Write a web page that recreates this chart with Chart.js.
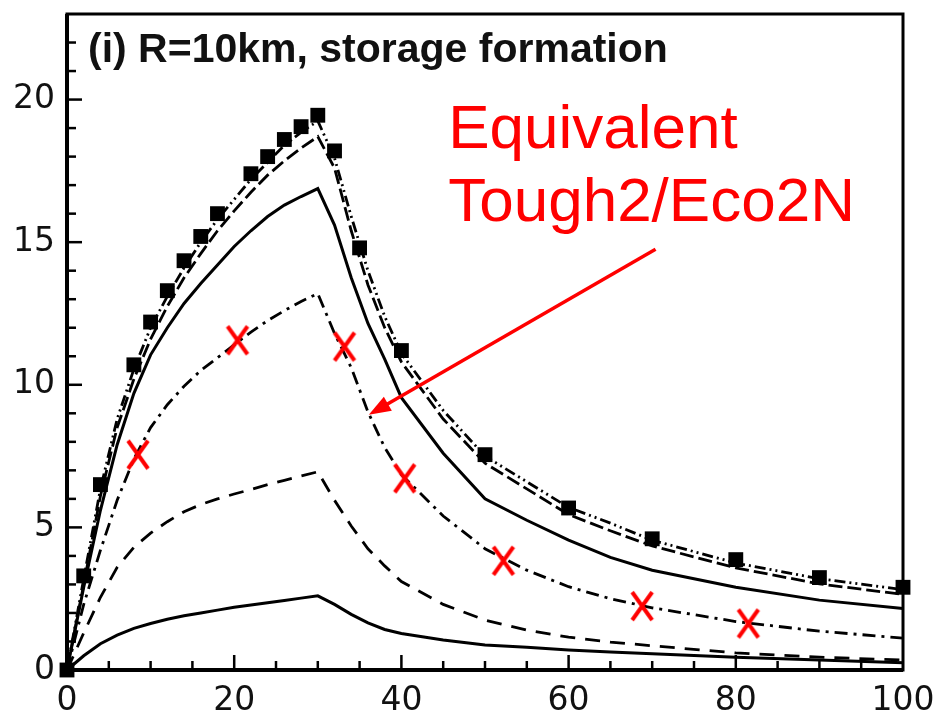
<!DOCTYPE html>
<html>
<head>
<meta charset="utf-8">
<script src="https://cdn.jsdelivr.net/npm/chart.js@4.4.0/dist/chart.umd.min.js"></script>
<style>
  html, body { margin: 0; padding: 0; background: #fff; }
</style>
</head>
<body>
<canvas id="chart" width="939" height="720"></canvas>
<script>
// temps commun aux courbes du modèle
var years = [0, 2, 4, 6, 8, 10, 12, 14, 16, 18, 20, 22, 24, 26, 28, 30,
             32, 34, 36, 38, 40, 45, 50, 55, 60, 65, 70, 80, 90, 100];

// une liste par courbe (de haut en bas)
var dashDotDot = [0, 3.2, 6.35, 8.8, 10.55, 12.0, 13.1, 14.1, 15.0, 15.8, 16.5, 17.2, 17.8, 18.4, 18.85, 19.25,
                  17.95, 15.9, 14.0, 12.4, 11.1, 9.1, 7.5, 6.6, 5.7, 5.15, 4.55, 3.75, 3.2, 2.82];
var longDash   = [0, 3.0, 6.1, 8.5, 10.2, 11.6, 12.75, 13.75, 14.6, 15.4, 16.1, 16.75, 17.35, 17.85, 18.3, 18.7,
                  17.6, 15.4, 13.5, 12.0, 10.8, 8.8, 7.25, 6.35, 5.45, 4.88, 4.35, 3.58, 3.02, 2.65];
var solidHigh  = [0, 2.9, 5.6, 7.9, 9.7, 11.05, 12.0, 12.85, 13.55, 14.2, 14.85, 15.4, 15.9, 16.3, 16.6, 16.88,
                  15.6, 13.75, 12.15, 10.9, 9.55, 7.6, 6.0, 5.25, 4.55, 3.95, 3.5, 2.9, 2.45, 2.16];
var dashDot    = [0, 2.3, 4.2, 5.95, 7.4, 8.5, 9.3, 9.95, 10.5, 10.95, 11.4, 11.85, 12.25, 12.6, 12.92, 13.2,
                  11.8, 10.6, 9.05, 7.8, 6.85, 5.4, 4.25, 3.5, 2.92, 2.5, 2.18, 1.7, 1.36, 1.12];
var dashed     = [0, 1.3, 2.55, 3.6, 4.3, 4.8, 5.2, 5.55, 5.8, 6.0, 6.17, 6.33, 6.5, 6.65, 6.8, 6.95,
                  5.95, 5.05, 4.25, 3.65, 3.1, 2.3, 1.75, 1.4, 1.15, 0.98, 0.85, 0.6, 0.45, 0.35];
var solidLow   = [0, 0.5, 0.92, 1.22, 1.46, 1.63, 1.78, 1.9, 2.0, 2.1, 2.2, 2.28, 2.36, 2.44, 2.52, 2.6,
                  2.3, 1.95, 1.65, 1.42, 1.28, 1.05, 0.88, 0.8, 0.7, 0.63, 0.57, 0.45, 0.35, 0.25];

// carrés noirs
var squareYears  = [0, 2, 4, 8, 10, 12, 14, 16, 18, 22, 24, 26, 28, 30, 32, 35, 40, 50, 60, 70, 80, 90, 100];
var squareValues = [0, 3.3, 6.5, 10.7, 12.2, 13.3, 14.35, 15.2, 16.0, 17.4, 18.0, 18.6, 19.05, 19.45,
                    18.2, 14.8, 11.2, 7.55, 5.68, 4.6, 3.87, 3.24, 2.9];

// croix rouges Tough2/Eco2N
var toughYears  = [8.5, 20.4, 33.2, 40.4, 52.2, 68.8, 81.5];
var toughValues = [7.55, 11.56, 11.34, 6.72, 3.83, 2.24, 1.63];

// graduations
var xTicks = [0, 20, 40, 60, 80, 100];
var yTicks = [0, 5, 10, 15, 20];

var title = '(i) R=10km, storage formation';
var noteLines = ['Equivalent', 'Tough2/Eco2N'];
var noteAt = [45.6, 18.3];     // en unités des axes
var noteStep = 2.55;
var arrowFrom = [70.4, 14.75];
var arrowTo = [36.1, 8.95];

function pts(xs, ys) {
  return xs.map(function (x, i) { return { x: x, y: ys[i] }; });
}

// marqueur X rouge
var xMark = document.createElement('canvas');
xMark.width = 26; xMark.height = 32;
var g = xMark.getContext('2d');
g.strokeStyle = '#ff0000';
g.lineWidth = 4;
g.beginPath();
g.moveTo(3, 2); g.lineTo(23, 30);
g.moveTo(23, 2); g.lineTo(3, 30);
g.stroke();

function line(values, dash, width) {
  return {
    data: pts(years, values),
    borderColor: '#000',
    borderWidth: width || 3,
    borderDash: dash,
    pointRadius: 0,
    tension: 0,
    fill: false,
    clip: false
  };
}

var frame = {
  id: 'frame',
  beforeDatasetsDraw: function (chart) {
    var ctx = chart.ctx, a = chart.chartArea, x = chart.scales.x, y = chart.scales.y;
    ctx.save();
    ctx.strokeStyle = '#000';
    ctx.lineWidth = 2.5;
    for (var v = 5; v < 100; v += 5) {
      var px = x.getPixelForValue(v);
      var len = v % 20 === 0 ? 15 : 9;
      ctx.beginPath(); ctx.moveTo(px, a.bottom); ctx.lineTo(px, a.bottom - len); ctx.stroke();
    }
    for (var w = 1; w <= 22; w++) {
      var py = y.getPixelForValue(w);
      var l2 = w % 5 === 0 ? 15 : 9;
      ctx.beginPath(); ctx.moveTo(a.left, py); ctx.lineTo(a.left + l2, py); ctx.stroke();
    }
    ctx.lineWidth = 3;
    ctx.strokeRect(a.left, a.top, a.right - a.left, a.bottom - a.top);
    ctx.lineWidth = 4;
    ctx.beginPath();
    ctx.moveTo(a.left, a.top); ctx.lineTo(a.left, a.bottom); ctx.lineTo(a.right, a.bottom);
    ctx.stroke();
    ctx.restore();
  },
  afterDraw: function (chart) {
    var ctx = chart.ctx, a = chart.chartArea, x = chart.scales.x, y = chart.scales.y;
    ctx.save();
    ctx.fillStyle = '#111';
    ctx.font = 'bold 41px "Liberation Sans", Arial, sans-serif';
    ctx.textBaseline = 'alphabetic';
    ctx.fillText(title, a.left + 21, a.top + 48);

    ctx.fillStyle = '#ff0000';
    ctx.font = '62px "Liberation Sans", Arial, sans-serif';
    noteLines.forEach(function (t, i) {
      ctx.fillText(t, x.getPixelForValue(noteAt[0]), y.getPixelForValue(noteAt[1] - i * noteStep));
    });

    var x0 = x.getPixelForValue(arrowFrom[0]), y0 = y.getPixelForValue(arrowFrom[1]);
    var x1 = x.getPixelForValue(arrowTo[0]), y1 = y.getPixelForValue(arrowTo[1]);
    var ang = Math.atan2(y1 - y0, x1 - x0);
    var head = 22, half = 8;
    ctx.strokeStyle = '#ff0000';
    ctx.lineWidth = 3.5;
    ctx.beginPath();
    ctx.moveTo(x0, y0);
    ctx.lineTo(x1 - Math.cos(ang) * head * 0.8, y1 - Math.sin(ang) * head * 0.8);
    ctx.stroke();
    ctx.beginPath();
    ctx.moveTo(x1, y1);
    ctx.lineTo(x1 - Math.cos(ang) * head - Math.sin(ang) * half, y1 - Math.sin(ang) * head + Math.cos(ang) * half);
    ctx.lineTo(x1 - Math.cos(ang) * head + Math.sin(ang) * half, y1 - Math.sin(ang) * head - Math.cos(ang) * half);
    ctx.closePath();
    ctx.fill();
    ctx.restore();
  }
};

var tickFont = { family: '"DejaVu Sans", sans-serif', size: 33 };

new Chart(document.getElementById('chart'), {
  type: 'line',
  data: {
    datasets: [
      {
        data: pts(toughYears, toughValues),
        showLine: false,
        pointStyle: xMark,
        pointRadius: 13,
        clip: false
      },
      {
        data: pts(squareYears, squareValues),
        showLine: false,
        pointStyle: 'rect',
        pointRadius: 10.5,
        pointBackgroundColor: '#000',
        pointBorderColor: '#000',
        pointBorderWidth: 0,
        clip: false
      },
      line(dashDotDot, [11, 4, 2, 4, 2, 4], 2.8),
      line(longDash, [14, 5], 2.8),
      line(solidHigh, [], 3),
      line(dashDot, [13, 6, 3, 6], 2.8),
      line(dashed, [15, 10], 2.8),
      line(solidLow, [], 3)
    ]
  },
  options: {
    responsive: false,
    animation: false,
    devicePixelRatio: 1,
    layout: { padding: { top: 10, right: 36, left: 0, bottom: 0 } },
    plugins: { legend: { display: false }, tooltip: { enabled: false } },
    scales: {
      x: {
        type: 'linear',
        min: 0,
        max: 100,
        grid: { display: false, drawTicks: false },
        border: { display: false },
        afterBuildTicks: function (s) { s.ticks = xTicks.map(function (v) { return { value: v }; }); },
        afterFit: function (s) { s.height = 50; s.paddingLeft = 0; s.paddingRight = 0; },
        ticks: { font: tickFont, color: '#111', padding: 12, maxRotation: 0 }
      },
      y: {
        min: 0,
        max: 23,
        grid: { display: false, drawTicks: false },
        border: { display: false },
        afterBuildTicks: function (s) { s.ticks = yTicks.map(function (v) { return { value: v }; }); },
        afterFit: function (s) { s.width = 67; s.paddingTop = 0; s.paddingBottom = 0; },
        ticks: { font: tickFont, color: '#111', padding: 12 }
      }
    }
  },
  plugins: [frame]
});
</script>
</body>
</html>
